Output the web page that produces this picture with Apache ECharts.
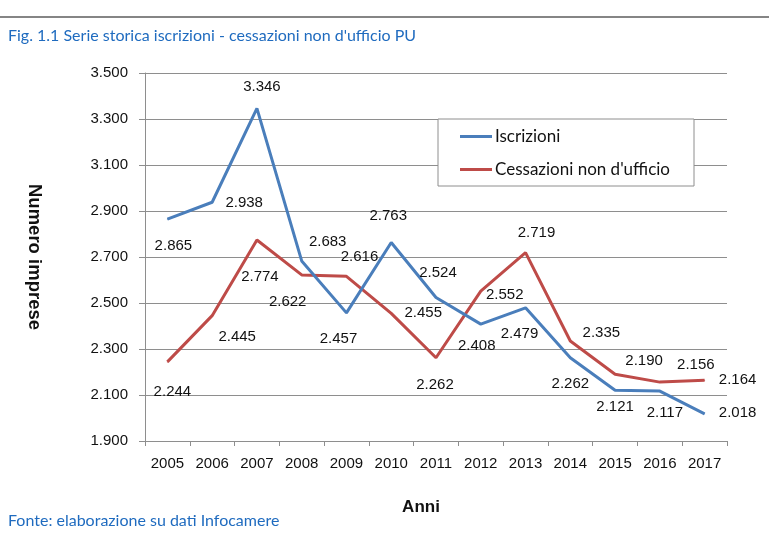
<!DOCTYPE html>
<html>
<head>
<meta charset="utf-8">
<script src="https://cdn.jsdelivr.net/npm/echarts@6/dist/echarts.min.js"></script>
<style>
  html, body { margin: 0; padding: 0; background: #fff; }
  #chart { width: 769px; height: 543px; }
</style>
</head>
<body>
<div id="chart"></div>
<script>
// ---- data ----
const years = ['2005','2006','2007','2008','2009','2010','2011','2012','2013','2014','2015','2016','2017'];
const iscrizioni = [2865, 2938, 3346, 2683, 2457, 2763, 2524, 2408, 2479, 2262, 2121, 2117, 2018];
const cessazioni = [2244, 2445, 2774, 2622, 2616, 2455, 2262, 2552, 2719, 2335, 2190, 2156, 2164];
const yTicks = [1900, 2100, 2300, 2500, 2700, 2900, 3100, 3300, 3500];

// ---- label placement (layout only) ----
const blueOffsets = [[6,27],[32,1],[5,-22],[26,-19],[-8,26],[-3,-27],[2,-25],[-4,22],[-6,26],[0,26],[0,17],[5,22],[33,-1]];
const redOffsets  = [[5,30],[25,21],[3,37],[-14,27],[13,-19],[32,0],[-1,27],[24,4],[11,-20],[31,-8],[29,-13],[36,-17],[33,0]];

function fmt(v) {
  return String(Math.round(v)).replace(/\B(?=(\d{3})+(?!\d))/g, '.');
}

const labelFont = { fontFamily: 'Liberation Sans, Arial, sans-serif', fontSize: 15, color: '#111' };

function buildData(values, offsets) {
  return values.map((v, i) => ({
    value: v,
    label: { offset: offsets[i] }
  }));
}

const BLUE = '#4A7EBB';
const RED = '#BE4B48';
const GRID = '#8e8e8e';

const chart = echarts.init(document.getElementById('chart'), null, { renderer: 'canvas' });

chart.setOption({
  backgroundColor: '#fff',
  animation: false,
  graphic: [
    { type: 'line', shape: { x1: 0, y1: 17, x2: 769, y2: 17 }, style: { stroke: '#858585', lineWidth: 2 } },
    { type: 'text', left: 8, top: 28, style: { text: "Fig. 1.1 Serie storica iscrizioni - cessazioni non d'ufficio PU", fill: '#1F6BBF', font: '16px Lato, "Open Sans", sans-serif' } },
    { type: 'text', left: 8, top: 513, style: { text: 'Fonte: elaborazione su dati Infocamere', fill: '#1F6BBF', font: '16px Lato, "Open Sans", sans-serif' } }
  ],
  grid: { left: 145, right: 42, top: 73, bottom: 102, containLabel: false },
  legend: {
    orient: 'vertical',
    left: 438,
    top: 119,
    padding: [9, 24, 8, 22],
    backgroundColor: '#fff',
    borderColor: '#8e8e8e',
    borderWidth: 1,
    borderRadius: 0,
    itemWidth: 32,
    itemHeight: 3,
    itemGap: 16,
    icon: 'rect',
    textStyle: { fontFamily: 'Lato, "Open Sans", sans-serif', fontSize: 17, color: '#111', padding: [0, 0, 0, -2] },
    data: ['Iscrizioni', "Cessazioni non d'ufficio"]
  },
  xAxis: {
    type: 'category',
    data: years,
    boundaryGap: true,
    name: 'Anni',
    nameLocation: 'middle',
    nameGap: 58,
    nameTextStyle: { fontFamily: 'Liberation Sans, Arial, sans-serif', fontSize: 17, fontWeight: 'bold', color: '#111', padding: [0, 30, 0, 0] },
    axisLine: { show: true, lineStyle: { color: GRID, width: 1 } },
    axisTick: { show: true, alignWithLabel: false, length: 5, lineStyle: { color: GRID } },
    axisLabel: { ...labelFont, margin: 15, interval: 0 },
    splitLine: { show: false }
  },
  yAxis: {
    type: 'value',
    min: 1900,
    max: 3500,
    name: 'Numero imprese',
    nameLocation: 'middle',
    nameRotate: -90,
    nameGap: 101,
    nameTextStyle: { fontFamily: 'Liberation Sans, Arial, sans-serif', fontSize: 18.5, fontWeight: 'bold', color: '#111' },
    axisLine: { show: true, lineStyle: { color: GRID, width: 1 } },
    axisTick: { show: true, length: 6, lineStyle: { color: GRID }, customValues: yTicks },
    axisLabel: { ...labelFont, margin: 17, customValues: yTicks, formatter: v => fmt(v) },
    splitLine: { show: true, lineStyle: { color: GRID, width: 1 } }
  },
  series: [
    {
      name: 'Iscrizioni',
      type: 'line',
      data: buildData(iscrizioni, blueOffsets),
      symbol: 'circle',
      symbolSize: 1,
      showSymbol: true,
      showAllSymbol: true,
      lineStyle: { color: BLUE, width: 3 },
      itemStyle: { color: BLUE },
      label: { show: true, position: 'inside', ...labelFont, formatter: p => fmt(p.value) },
      z: 3
    },
    {
      name: "Cessazioni non d'ufficio",
      type: 'line',
      data: buildData(cessazioni, redOffsets),
      symbol: 'circle',
      symbolSize: 1,
      showSymbol: true,
      showAllSymbol: true,
      lineStyle: { color: RED, width: 3 },
      itemStyle: { color: RED },
      label: { show: true, position: 'inside', ...labelFont, formatter: p => fmt(p.value) },
      z: 2
    }
  ]
});
</script>
</body>
</html>
